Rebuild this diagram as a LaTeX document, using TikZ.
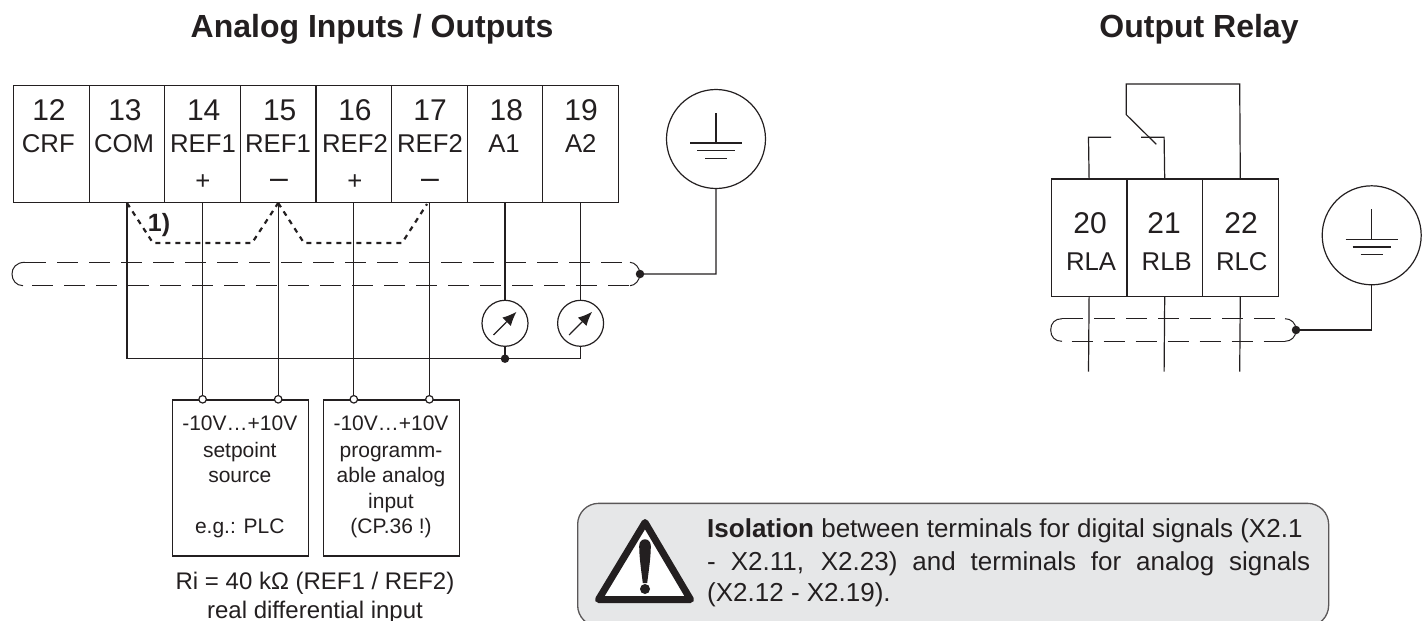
\documentclass[tikz,border=0pt]{standalone}
\usepackage{fontspec}
\setmainfont{Liberation Sans}
\usetikzlibrary{arrows.meta}
\definecolor{ink}{HTML}{231F20}
\definecolor{warn}{HTML}{E6E7E8}
\newcommand{\fsz}[1]{\fontsize{#1pt}{#1pt}\selectfont}
\tikzset{
  x=1pt,y=-1pt,
  wire/.style={draw=ink,line width=1.2pt},
  cell/.style={draw=ink,line width=1.2pt,minimum width=75.6pt,minimum height=117.3pt,inner sep=0pt,anchor=north west},
  rcell/.style={draw=ink,line width=1.2pt,minimum width=75.6pt,minimum height=117.7pt,inner sep=0pt,anchor=north west},
  shieldline/.style={draw=ink,line width=1.1pt,dash pattern=on 21pt off 11pt},
  dotbridge/.style={draw=ink,line width=2.2pt,dash pattern=on 5pt off 5pt},
  txt/.style={text=ink,inner sep=0pt,align=center},
  num/.style={txt,font=\fsz{30}},
  lab/.style={txt,font=\fsz{25.7}},
  sign/.style={txt,anchor=base,font=\fsz{25.7}},
  dash sign/.style={txt,anchor=base,font=\fsz{32}},
  small/.style={txt,font=\fsz{21},text height=15pt,text depth=4pt},
  head/.style={txt,anchor=base,font=\fsz{32}\bfseries},
  warntext/.style={txt,anchor=base west,font=\fsz{26}},
  meter/.style={draw=ink,line width=1.2pt,circle,minimum size=46pt,inner sep=0pt},
  earth/.style={draw=ink,line width=1.2pt,circle,minimum size=99pt,inner sep=0pt},
  opendot/.style={draw=ink,fill=white,line width=1.2pt,circle,minimum size=7.5pt,inner sep=0pt},
  soliddot/.style={fill=ink,circle,minimum size=8.5pt,inner sep=0pt},
  needle/.style={draw=ink,line width=1.2pt,-{Latex[length=14pt,width=12pt]}},
  srcbox/.style={draw=ink,line width=1.2pt,inner sep=0pt,anchor=north west,minimum width=136.4pt,minimum height=156pt},
}
\newcommand{\earthsym}[1]{%
  \draw[wire] ([shift={(0,-26)}]#1.center) -- ([shift={(0,4)}]#1.center);
  \draw[wire] ([shift={(-26,4)}]#1.center) -- ([shift={(26,4)}]#1.center);
  \draw[wire] ([shift={(-19,11.6)}]#1.center) -- ([shift={(19,11.6)}]#1.center);
  \draw[wire] ([shift={(-11,19.4)}]#1.center) -- ([shift={(11,19.4)}]#1.center);
}
\begin{document}
\begin{tikzpicture}
\useasboundingbox (0,0) rectangle (1422,621);
\node[head] (t1) at (372,37.7) {Analog Inputs / Outputs};
\node[head] (t2) at (1199,37.7) {Output Relay};
\foreach \n/\x in {12/13,13/88.6,14/164.2,15/239.8,16/315.4,17/391,18/466.6,19/542.2}
  \node[cell] (c\n) at (\x,84.5) {};
\foreach \n/\x/\l/\lx in {12/49/CRF/48.3,13/125/COM/124,14/203.7/REF1/203,15/279.7/REF1/278,16/355/REF2/355,17/430/REF2/430,18/506.3/A1/504,19/581/A2/580.8}{
  \node[num] (n\n) at (\x,110.5) {\n};
  \node[lab] (l\n) at (\lx,143.5) {\l};
}
\node[sign] (p14) at (203,189.4) {+};
\node[dash sign] (m15) at (279,188.6) {–};
\node[sign] (p16) at (355,189.4) {+};
\node[dash sign] (m17) at (430,188.6) {–};
\node[earth] (g1) at (716,139) {};
\earthsym{g1}
\coordinate (sa) at (25,262.3);
\coordinate (sb) at (630,262.3);
\coordinate (sc) at (23,285.7);
\coordinate (sd) at (630,285.7);
\node[soliddot] (sdot) at (640,274) {};
\draw[shieldline] (sa) -- (sb);
\draw[shieldline] (32,285.7) -- (sd);
\draw[wire,line width=1pt] (sa) .. controls (16,262.3) and (12,268) .. (12,274) .. controls (12,280) and (16,285.7) .. (sc);
\draw[wire,line width=1pt] (sb) .. controls (635,262.3) and (640,268) .. (sdot.center) .. controls (640,280) and (635,285.7) .. (sd);
\draw[wire] (g1.south) -- (716,273.9) -- (sdot.center);
\node[meter] (m18) at (c18.south |- 0,323.3) {};
\node[meter] (m19) at (c19.south |- 0,323.3) {};
\draw[wire] (c18.south) -- (m18.north);
\draw[wire] (c19.south) -- (m19.north);
\foreach \m in {m18,m19}
  \draw[needle] ([shift={(-11.5,11.7)}]\m.center) -- ([shift={(11.5,-11.5)}]\m.center);
\node[soliddot] (jn) at (505,358.7) {};
\coordinate (bl) at (c13.south |- jn);
\coordinate (br) at (c19.south |- jn);
\draw[wire] (c13.south) -- (bl) -- (jn.center) -- (br) -- (m19.south);
\draw[wire] (m18.south) -- (m18.south |- jn);
\node[srcbox] (b1) at (171.7,399.3) {};
\node[srcbox] (b2) at (322.7,399.3) {};
\foreach \n/\y in {14/1,15/1,16/2,17/2}{
  \node[opendot] (o\n) at (c\n.south |- b\y.north) {};
  \draw[wire] (c\n.south) -- (o\n.north);
}
\node[small] (x1) at (239.8,425) {-10V…+10V};
\node[small] (x2) at (239.8,451.5) {setpoint};
\node[small] (x3) at (239.8,477) {source};
\node[small] (x4) at (239.8,528) {e.g.: PLC};
\node[small] (y1) at (391,425) {-10V…+10V};
\node[small] (y2) at (391,451.5) {programm-};
\node[small] (y3) at (391,477) {able analog};
\node[small] (y4) at (391,503) {input};
\node[small] (y5) at (391,528) {(CP.36 !)};
\node[txt,font=\fsz{24}] (r1) at (315,583) {Ri = 40 kΩ (REF1 / REF2)};
\node[txt,font=\fsz{24}] (r2) at (315,612) {real differential input};
\coordinate (d1) at (153,243); \coordinate (d2) at (252,243);
\coordinate (d3) at (304,243); \coordinate (d4) at (402,243);
\coordinate (d5) at (427,204);
\draw[dotbridge] (c13.south) -- (d1) -- (d2) -- (c15.south);
\draw[dotbridge] (c15.south) -- (d3) -- (d4) -- (d5);
\node[txt,font=\fsz{25}\bfseries] (fn) at (159,225) {1)};
\foreach \n/\x in {20/1050.7,21/1126.3,22/1201.9}
  \node[rcell] (c\n) at (\x,178.3) {};
\foreach \n/\x/\l/\lx in {20/1090/RLA/1091,21/1164/RLB/1166.7,22/1241/RLC/1241.7}{
  \node[num] (n\n) at (\x,222.7) {\n};
  \node[lab] (l\n) at (\lx,261.7) {\l};
}
\coordinate (ra) at (1239.7,84); \coordinate (rb) at (1126.3,84);
\coordinate (rc) at (1126.3,114.7); \coordinate (rd) at (1156.3,144.3);
\coordinate (re) at (1088.5,137.3); \coordinate (rf) at (1111,137.3);
\coordinate (rg) at (1164.1,137.3); \coordinate (rh) at (1141,137.3);
\draw[wire] (c22.north) -- (ra) -- (rb) -- (rc) -- (rd);
\draw[wire] (c20.north) -- (re) -- (rf);
\draw[wire] (c21.north) -- (rg) -- (rh);
\coordinate (w20) at (1088.5,371.7);
\coordinate (w21) at (1164.1,371.7);
\coordinate (w22) at (1239.7,371.7);
\draw[wire] (c20.south) -- (w20);
\draw[wire] (c21.south) -- (w21);
\draw[wire] (c22.south) -- (w22);
\coordinate (ta) at (1062,318.7); \coordinate (tb) at (1285,318.7);
\coordinate (tc) at (1062,341.3); \coordinate (td) at (1285,341.3);
\node[soliddot] (tdot) at (1296,330) {};
\draw[shieldline] (ta) -- (1276,318.7);
\draw[shieldline] (1071.7,341.3) -- (td);
\draw[wire,line width=1pt] (ta) .. controls (1055,318.7) and (1050.7,323) .. (1050.7,330) .. controls (1050.7,337) and (1055,341.3) .. (tc);
\draw[wire,line width=1pt] (tb) .. controls (1291,318.7) and (1296,323) .. (tdot.center) .. controls (1296,337) and (1291,341.3) .. (td);
\node[earth] (g2) at (1371.7,235.3) {};
\earthsym{g2}
\draw[wire] (g2.south) -- (1371.7,330) -- (tdot.center);
\node[draw=ink!75,fill=warn,line width=1.3pt,rounded corners=21pt,anchor=north west,minimum width=751pt,minimum height=123pt,inner sep=0pt] (w) at (577,502.7) {};
\draw[draw=ink,fill=white,line width=7pt,line join=round] (645,522.5) -- (690.5,599.5) -- (598.5,599.5) -- cycle;
\fill[ink] (639.2,546) .. controls (639.2,537) and (650.8,537) .. (650.8,546) .. controls (650.8,558) and (648.5,572) .. (647.2,583) -- (642.8,583) .. controls (641.5,572) and (639.2,558) .. (639.2,546) -- cycle;
\fill[ink] (645,589) circle (5);
\node[warntext] (w1) at (707,537.7) {\textbf{Isolation} between terminals for digital signals (X2.1};
\node[warntext] (w2) at (707,570) {\hbox to 603pt{- X2.11, X2.23) and terminals for analog signals}};
\node[warntext] (w3) at (707,601.7) {(X2.12 - X2.19).};
\end{tikzpicture}
\end{document}
